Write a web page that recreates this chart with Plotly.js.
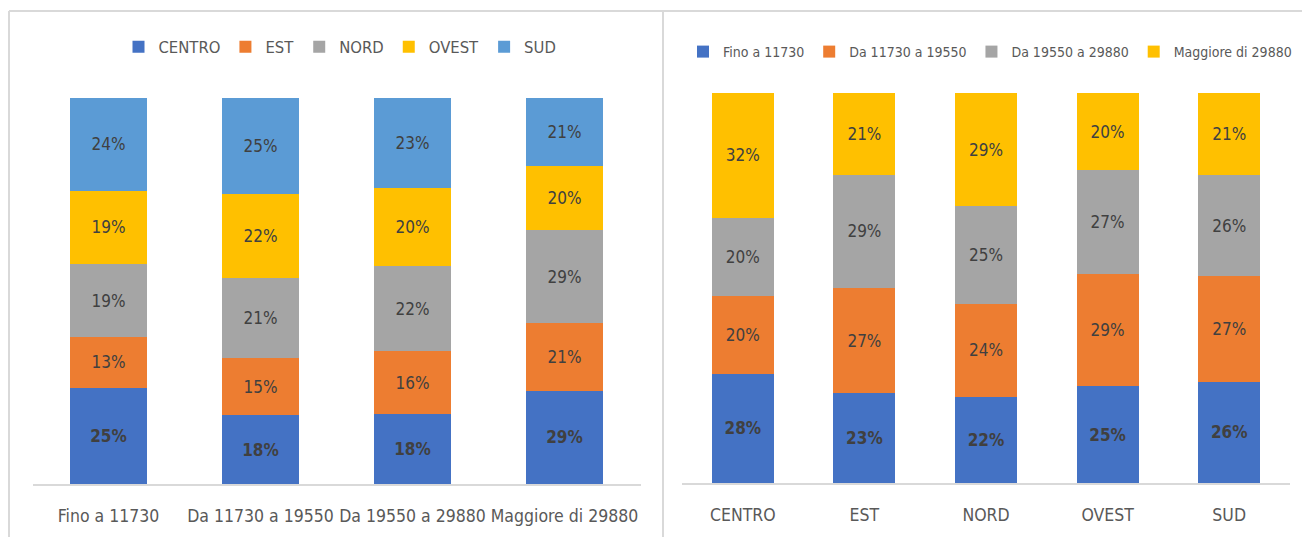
<!DOCTYPE html>
<html>
<head>
<meta charset="utf-8">
<script src="https://cdn.plot.ly/plotly-3.0.1.min.js"></script>
<style>
  html, body { margin: 0; padding: 0; background: #ffffff; overflow: hidden; }
  #chart { width: 1302px; height: 537px; }
</style>
</head>
<body>
<div id="chart"></div>
<script>
// ---- Left chart: income bands (x) split by area (stack) ----
const bandCategories = ["Fino a 11730", "Da 11730 a 19550", "Da 19550 a 29880", "Maggiore di 29880"];
const areaNames = ["CENTRO", "EST", "NORD", "OVEST", "SUD"];
const leftCENTRO = [25, 18, 18, 29];
const leftEST    = [13, 15, 16, 21];
const leftNORD   = [19, 21, 22, 29];
const leftOVEST  = [19, 22, 20, 20];
const leftSUD    = [24, 25, 23, 21];

// ---- Right chart: areas (x) split by income band (stack) ----
const areaCategories = ["CENTRO", "EST", "NORD", "OVEST", "SUD"];
const bandNames = ["Fino a 11730", "Da 11730 a 19550", "Da 19550 a 29880", "Maggiore di 29880"];
const rightFino     = [28, 23, 22, 25, 26];
const rightDa11730  = [20, 27, 24, 29, 27];
const rightDa19550  = [20, 29, 25, 27, 26];
const rightMaggiore = [32, 21, 29, 20, 21];

const leftColors  = ["#4472C4", "#ED7D31", "#A5A5A5", "#FFC000", "#5B9BD5"];
const rightColors = ["#4472C4", "#ED7D31", "#A5A5A5", "#FFC000"];

const FONT = "'DejaVu Sans Condensed', 'Liberation Sans Narrow', 'Liberation Sans', sans-serif";
const W = 1302, H = 537;
const px = v => v / W;
const py = v => 1 - v / H;

function barTrace(name, x, y, color, xa, ya, legend, bold) {
  return {
    type: "bar",
    name: name,
    x: x,
    y: y,
    xaxis: xa,
    yaxis: ya,
    legend: legend,
    marker: { color: color, line: { width: 0 } },
    text: y.map(v => v + "%"),
    textposition: "inside",
    insidetextanchor: "middle",
    textangle: 0,
    constraintext: "none",
    textfont: { family: FONT, size: 17, color: "#404040", weight: bold ? "bold" : "normal" },
    hoverinfo: "name+x+text"
  };
}

const leftSeries = [leftCENTRO, leftEST, leftNORD, leftOVEST, leftSUD];
const rightSeries = [rightFino, rightDa11730, rightDa19550, rightMaggiore];

const data = [];
leftSeries.forEach((s, i) => data.push(barTrace(areaNames[i], bandCategories, s, leftColors[i], "x", "y", "legend", i === 0)));
rightSeries.forEach((s, i) => data.push(barTrace(bandNames[i], areaCategories, s, rightColors[i], "x2", "y2", "legend2", i === 0)));

const borderColor = "#D9D9D9";
const tickFont = { family: FONT, size: 17.5, color: "#595959" };
const layout = {
  width: W,
  height: H,
  autosize: false,
  margin: { l: 0, r: 0, t: 0, b: 0, autoexpand: false },
  paper_bgcolor: "#ffffff",
  plot_bgcolor: "#ffffff",
  font: { family: FONT, color: "#595959" },
  barmode: "stack",
  barnorm: "percent",
  bargap: 0.49,
  showlegend: true,
  xaxis: {
    domain: [px(32.5), px(640.5)],
    anchor: "y",
    showline: true, linecolor: borderColor, linewidth: 2,
    ticks: "", showgrid: false, zeroline: false,
    tickangle: 0,
    tickfont: tickFont,
    ticklabelstandoff: 15,
    automargin: false,
    fixedrange: true
  },
  yaxis: {
    domain: [1 - 484 / H, 1 - 98 / H],
    anchor: "x",
    range: [0, 100],
    visible: false,
    fixedrange: true
  },
  xaxis2: {
    domain: [px(682), px(1290)],
    anchor: "y2",
    showline: true, linecolor: borderColor, linewidth: 2,
    ticks: "", showgrid: false, zeroline: false,
    tickangle: 0,
    tickfont: tickFont,
    ticklabelstandoff: 15,
    automargin: false,
    fixedrange: true
  },
  yaxis2: {
    domain: [1 - 483 / H, 1 - 93 / H],
    anchor: "x2",
    range: [0, 100],
    visible: false,
    fixedrange: true
  },
  legend: {
    orientation: "h",
    x: px(340), xanchor: "center",
    y: py(47), yanchor: "middle",
    traceorder: "normal",
    font: { family: FONT, size: 16.5, color: "#595959" },
    bgcolor: "rgba(0,0,0,0)"
  },
  legend2: {
    orientation: "h",
    x: px(990), xanchor: "center",
    y: py(52), yanchor: "middle",
    traceorder: "normal",
    font: { family: FONT, size: 14, color: "#595959" },
    bgcolor: "rgba(0,0,0,0)"
  },
  shapes: [
    { type: "line", xref: "paper", yref: "paper", x0: px(9), x1: 1, y0: py(11), y1: py(11), line: { color: borderColor, width: 2 } },
    { type: "line", xref: "paper", yref: "paper", x0: px(9), x1: px(9), y0: py(11), y1: 0, line: { color: borderColor, width: 2 } },
    { type: "line", xref: "paper", yref: "paper", x0: px(663), x1: px(663), y0: py(11), y1: 0, line: { color: borderColor, width: 2 } }
  ]
};

Plotly.newPlot("chart", data, layout, { displayModeBar: false });
</script>
</body>
</html>
